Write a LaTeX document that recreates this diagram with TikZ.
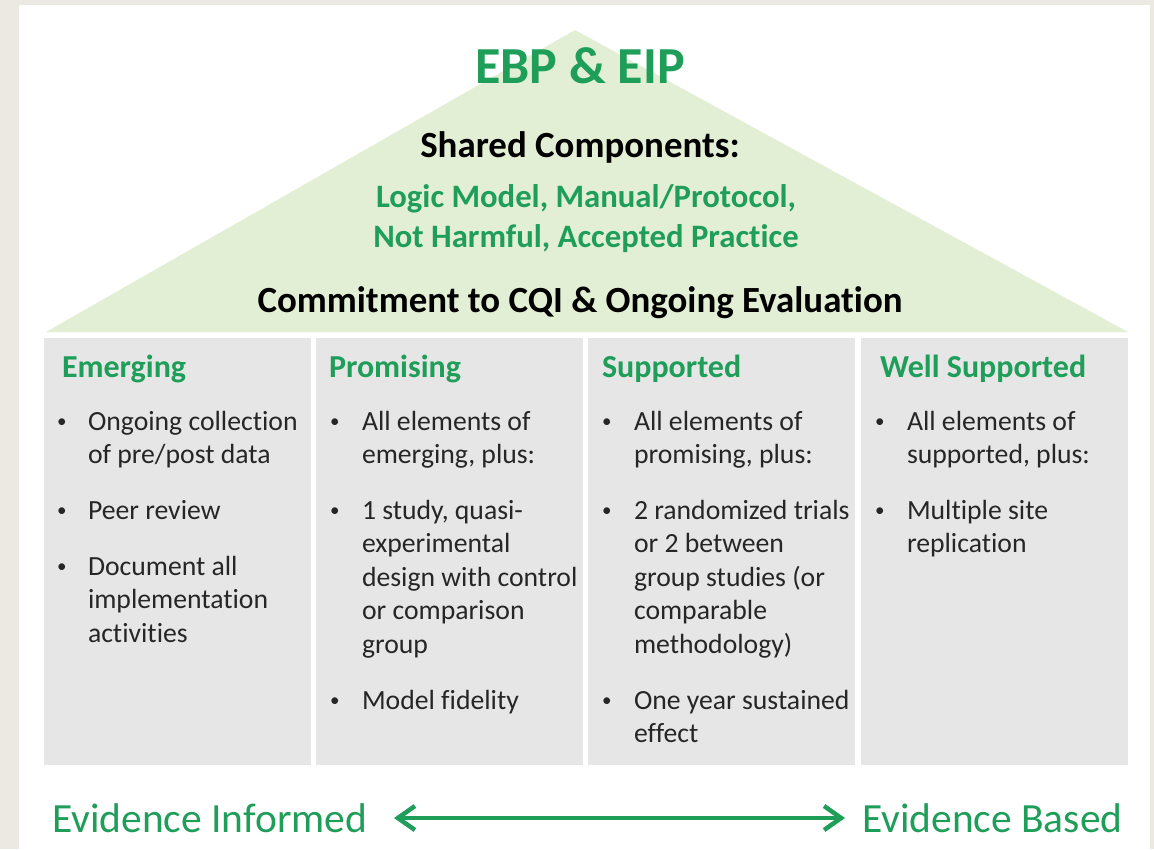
\documentclass[tikz,border=0pt]{standalone}
\usepackage{fontspec}
\setmainfont{Carlito}[Ligatures={NoCommon}]
\usetikzlibrary{arrows.meta}
\definecolor{ebgreen}{RGB}{31,158,90}
\definecolor{trifill}{RGB}{226,239,212}
\definecolor{boxgray}{RGB}{231,230,230}
\definecolor{pagebg}{RGB}{236,233,226}
\tikzset{
  every node/.style={inner sep=0pt, outer sep=0pt},
  titletxt/.style={font=\fontsize{52}{60}\selectfont\bfseries, text=ebgreen, anchor=base},
  sharedtxt/.style={font=\fontsize{36.9}{42}\selectfont\bfseries, text=black, anchor=base},
  greentxt/.style={font=\fontsize{32.7}{38}\selectfont\bfseries, text=ebgreen, anchor=base},
  headtxt/.style={font=\fontsize{32}{38}\selectfont\bfseries, text=ebgreen, anchor=base west},
  bodytxt/.style={font=\fontsize{27.7}{33}\selectfont, text=black!85, anchor=base west},
  bullettxt/.style={font=\fontsize{19}{22}\selectfont, text=black!85, anchor=base west},
  bottomtxt/.style={font=\fontsize{41.5}{48}\selectfont, text=ebgreen, anchor=base west},
  colbox/.style={fill=boxgray, draw=none, anchor=north west, minimum width=267pt, minimum height=427pt},
  bidir/.style={draw=ebgreen, line width=4.5pt, {Straight Barb[length=17pt,width=24pt]}-{Straight Barb[length=17pt,width=24pt]}}
}
\newcommand\bodyline[4]{\node[bodytxt] (#1) at (#2,#3) {#4};}
\newcommand\bulletat[3]{\node[bullettxt] (#1) at (#2,#3-3) {\textbullet};}
\begin{document}
\begin{tikzpicture}[x=1pt,y=-1pt]
\useasboundingbox (0,0) rectangle (1154,849);
\fill[pagebg] (0,0) rectangle (1154,849);
\fill[white] (19,5) rectangle (1150,849);
% roof
\coordinate (tl) at (46,332);
\coordinate (tt) at (575,30);
\coordinate (tr) at (1128,332);
\fill[trifill] (tl) -- (tt) -- (tr) -- cycle;
\node[titletxt] (title) at (580,83) {EBP \& EIP};
\node[sharedtxt] (shared) at (580,157) {Shared Components:};
\node[greentxt] (g1) at (586,207) {Logic Model, Manual/Protocol,};
\node[greentxt] (g2) at (586,247) {Not Harmful, Accepted Practice};
\node[sharedtxt] (cqi) at (580,312) {Commitment to CQI \& Ongoing Evaluation};
% columns
\node[colbox] (c1) at (44,338) {};
\node[colbox] (c2) at (316,338) {};
\node[colbox] (c3) at (588,338) {};
\node[colbox] (c4) at (861,338) {};
\node[headtxt] (h1) at (62,377) {Emerging};
\node[headtxt] (h2) at (329,377) {Promising};
\node[headtxt] (h3) at (602,377) {Supported};
\node[headtxt] (h4) at (880,377) {Well Supported};
% column 1
\bulletat{b11}{57}{430}
\bodyline{l11}{88}{430}{Ongoing collection}
\bodyline{l12}{88}{463.4}{of pre/post data}
\bulletat{b12}{57}{519.4}
\bodyline{l13}{88}{519.4}{Peer review}
\bulletat{b13}{57}{575.4}
\bodyline{l14}{88}{575.4}{Document all}
\bodyline{l15}{88}{608.8}{implementation}
\bodyline{l16}{88}{642.2}{activities}
% column 2
\bulletat{b21}{330}{430}
\bodyline{l21}{362}{430}{All elements of}
\bodyline{l22}{362}{463.4}{emerging, plus:}
\bulletat{b22}{330}{519.4}
\bodyline{l23}{362}{519.4}{1 study, quasi-}
\bodyline{l24}{362}{552.8}{experimental}
\bodyline{l25}{362}{586.2}{design with control}
\bodyline{l26}{362}{619.6}{or comparison}
\bodyline{l27}{362}{653}{group}
\bulletat{b23}{330}{709}
\bodyline{l28}{362}{709}{Model fidelity}
% column 3
\bulletat{b31}{602}{430}
\bodyline{l31}{634}{430}{All elements of}
\bodyline{l32}{634}{463.4}{promising, plus:}
\bulletat{b32}{602}{519.4}
\bodyline{l33}{634}{519.4}{2 randomized trials}
\bodyline{l34}{634}{552.8}{or 2 between}
\bodyline{l35}{634}{586.2}{group studies (or}
\bodyline{l36}{634}{619.6}{comparable}
\bodyline{l37}{634}{653}{methodology)}
\bulletat{b33}{602}{709}
\bodyline{l38}{634}{709}{One year sustained}
\bodyline{l39}{634}{742.4}{effect}
% column 4
\bulletat{b41}{875}{430}
\bodyline{l41}{907}{430}{All elements of}
\bodyline{l42}{907}{463.4}{supported, plus:}
\bulletat{b42}{875}{519.4}
\bodyline{l43}{907}{519.4}{Multiple site}
\bodyline{l44}{907}{552.8}{replication}
% bottom scale
\node[bottomtxt] (ei) at (52,832) {Evidence Informed};
\node[bottomtxt] (eb) at (862,832) {Evidence Based};
\coordinate (al) at (394,818);
\coordinate (ar) at (845,818);
\draw[bidir] (al) -- (ar);
\end{tikzpicture}
\end{document}
